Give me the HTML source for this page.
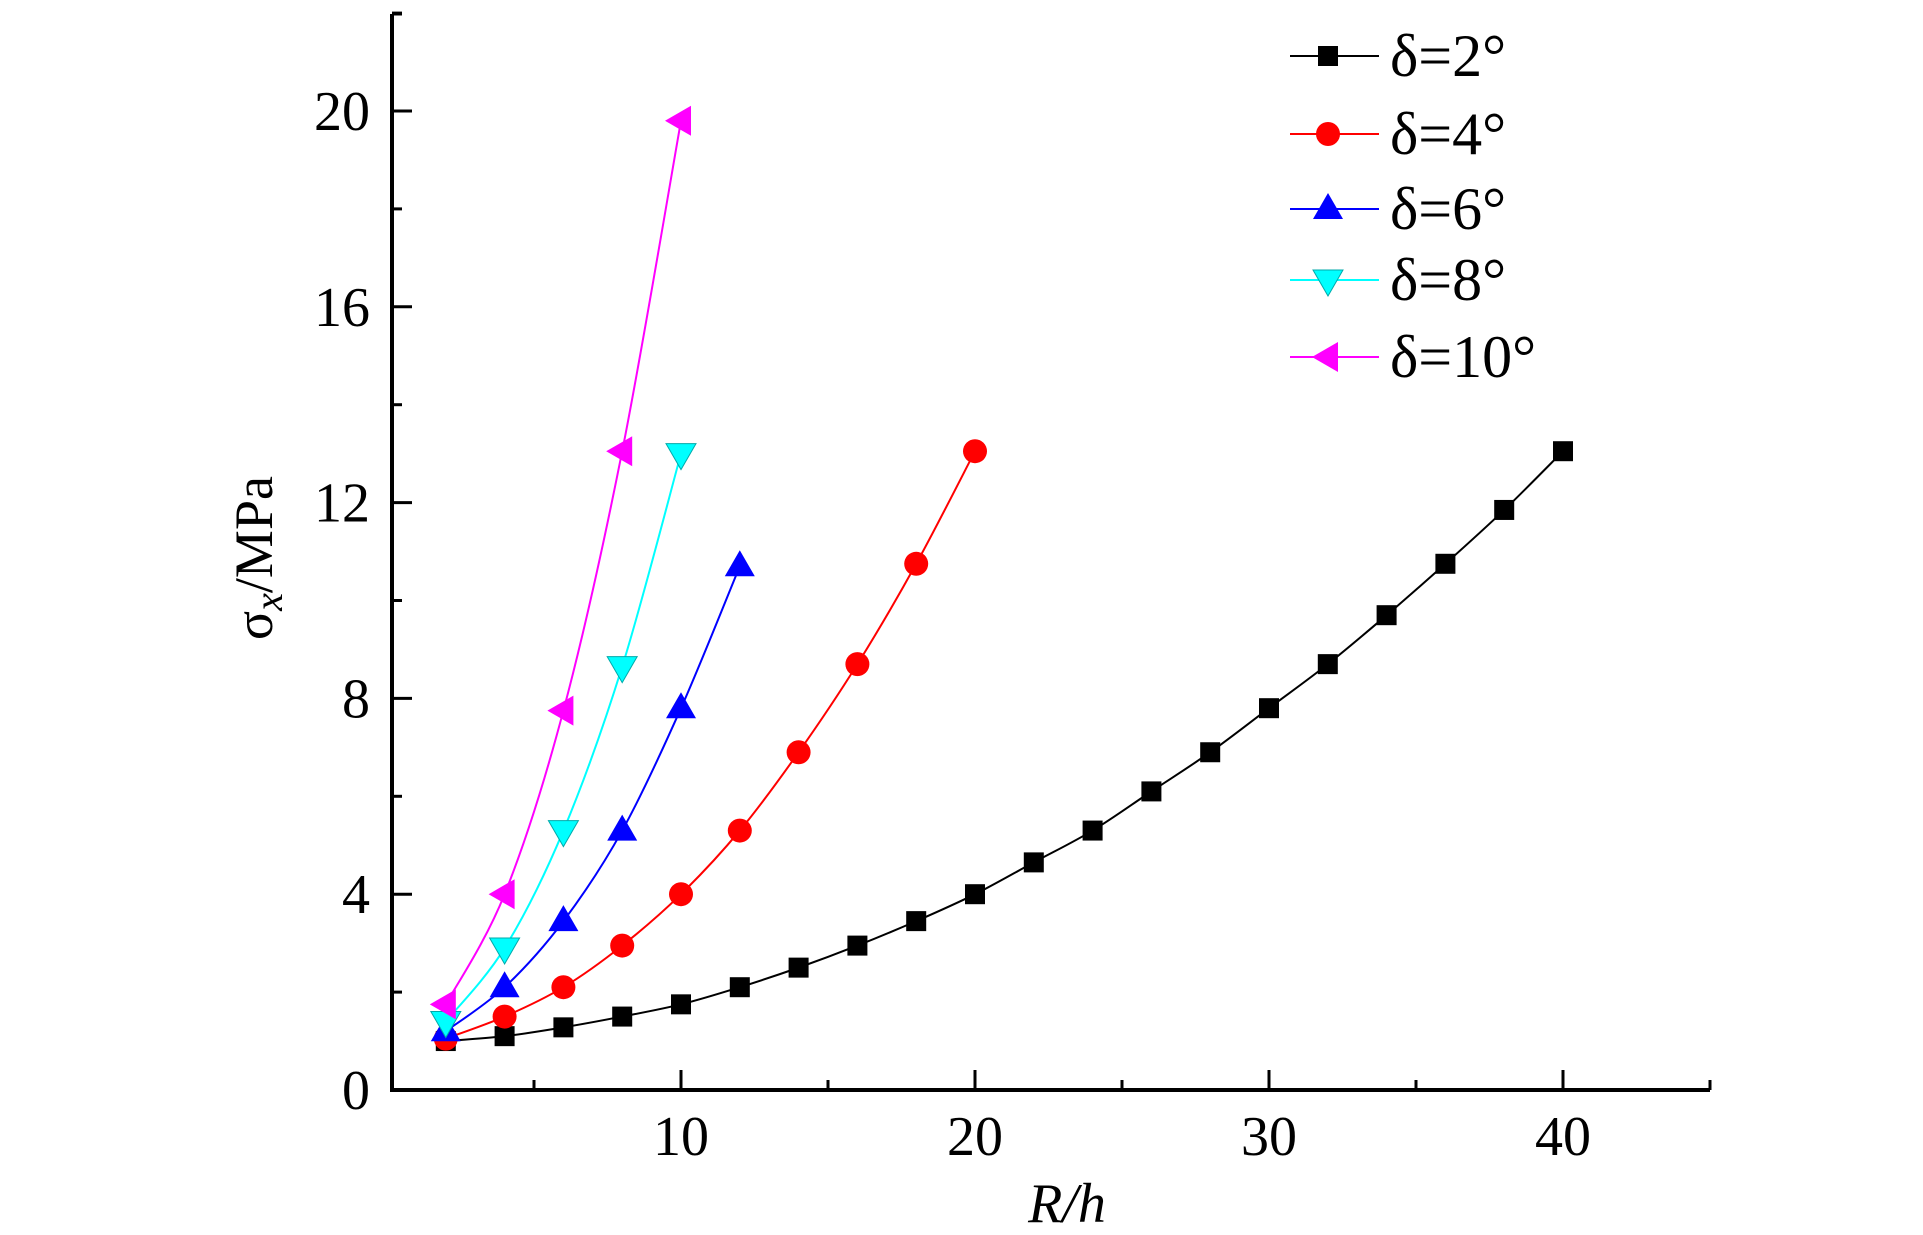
<!DOCTYPE html>
<html><head><meta charset="utf-8"><style>
html,body{margin:0;padding:0;background:#fff;}
svg{display:block;}
text{font-family:"Liberation Serif",serif;fill:#000;}
</style></head><body>
<svg id="chart" width="1923" height="1235" viewBox="0 0 1923 1235" xmlns="http://www.w3.org/2000/svg">
<g id="axes"></g>
<g id="series"></g>
<g id="legend"></g>
<text transform="translate(272,558) rotate(-90)" text-anchor="middle" font-size="54">σ<tspan font-style="italic" font-size="40" dy="10">x</tspan><tspan dy="-10">/MPa</tspan></text>
<text x="1067" y="1222" text-anchor="middle" font-size="56" font-style="italic">R/h</text>
</svg>
<script>
const xs2 = [2,4,6,8,10,12,14,16,18,20,22,24,26,28,30,32,34,36,38,40];
const ys2 = [1.0,1.1,1.28,1.5,1.75,2.1,2.5,2.95,3.45,4.0,4.65,5.3,6.1,6.9,7.8,8.7,9.7,10.75,11.85,13.05];
const xs4 = [2,4,6,8,10,12,14,16,18,20];
const ys4 = [1.05,1.5,2.1,2.95,4.0,5.3,6.9,8.7,10.75,13.05];
const xs6 = [2,4,6,8,10,12];
const ys6 = [1.2,2.1,3.45,5.3,7.8,10.7];
const xs8 = [2,4,6,8,10];
const ys8 = [1.4,2.9,5.3,8.65,13.0];
const xs10 = [2,4,6,8,10];
const ys10 = [1.75,4.0,7.75,13.05,19.8];
const seriesNames = ["δ=2°","δ=4°","δ=6°","δ=8°","δ=10°"];
const xTickLabels = ["10","20","30","40"];
const yTickLabels = ["0","4","8","12","16","20"];

const NS="http://www.w3.org/2000/svg";
const X = v => 387 + v*29.4;
const Y = v => 1090 - v*48.95;
function mk(tag, attrs, parent){const e=document.createElementNS(NS,tag);for(const k in attrs)e.setAttribute(k,attrs[k]);parent.appendChild(e);return e;}
const axes=document.getElementById('axes');
let l=mk('line',{x1:392,y1:Y(0),x2:X(45),y2:Y(0),stroke:'#000','stroke-width':4},axes);


l=mk('line',{x1:392,y1:Y(0)+2,x2:392,y2:14,stroke:'#000','stroke-width':4},axes);


for(let v=2;v<=22;v+=2){const major=v%4===0&&v<=20;
 const t=mk('line',{x1:392,y1:Y(v),x2:392+(major?20:10),y2:Y(v),stroke:'#000','stroke-width':3},axes);
 
 }
mk('line',{x1:392,y1:14,x2:402,y2:14,stroke:'#000','stroke-width':3},axes);
yTickLabels.forEach((s,i)=>{const t=mk('text',{x:370,y:Y(i*4)+19,'text-anchor':'end','font-size':56},axes);t.textContent=s;
 
 });
for(let v=5;v<=45;v+=5){const major=v%10===0;
 const t=mk('line',{x1:X(v),y1:Y(0),x2:X(v),y2:Y(0)-(major?20:10),stroke:'#000','stroke-width':3},axes);
 
 }
xTickLabels.forEach((s,i)=>{const t=mk('text',{x:X((i+1)*10),y:1155,'text-anchor':'middle','font-size':56},axes);t.textContent=s;
 
 });

const colors=['#000','#f00','#00f','#0ff','#f0f'];
const markers=['square','circle','up','down','left'];
const data=[[xs2,ys2],[xs4,ys4],[xs6,ys6],[xs8,ys8],[xs10,ys10]];
function marker(type,cx,cy,col,p){let e;
 if(type==='square')e=mk('rect',{x:cx-10,y:cy-10,width:20,height:20,fill:col},p);
 else if(type==='circle')e=mk('circle',{cx:cx,cy:cy,r:12,fill:col},p);
 else if(type==='up')e=mk('polygon',{points:`${cx},${cy-16} ${cx-15},${cy+10} ${cx+15},${cy+10}`,fill:col},p);
 else if(type==='down')e=mk('polygon',{points:`${cx},${cy+16} ${cx-15},${cy-10} ${cx+15},${cy-10}`,fill:col,stroke:'#0aa','stroke-width':1},p);
 else e=mk('polygon',{points:`${cx-16},${cy} ${cx+10},${cy-15} ${cx+10},${cy+15}`,fill:col},p);
 return e;}
function smooth(pts){let d=`M${pts[0][0]},${pts[0][1]}`;
 for(let i=0;i<pts.length-1;i++){const p0=pts[i-1]||pts[i],p1=pts[i],p2=pts[i+1],p3=pts[i+2]||p2;
  d+=` C${p1[0]+(p2[0]-p0[0])/6},${p1[1]+(p2[1]-p0[1])/6} ${p2[0]-(p3[0]-p1[0])/6},${p2[1]-(p3[1]-p1[1])/6} ${p2[0]},${p2[1]}`;}
 return d;}
const sg=document.getElementById('series');
data.forEach(([xs,ys],si)=>{const g=mk('g',{},sg);
 
 
 const pts=xs.map((x,i)=>[X(x),Y(ys[i])]);
 mk('path',{d:smooth(pts),fill:'none',stroke:colors[si],'stroke-width':2},g);
 pts.forEach(p=>{const m=marker(markers[si],p[0],p[1],colors[si],g);
  
  });});
const lg=document.getElementById('legend');
const rows=[56,134,209,280,357];
seriesNames.forEach((s,i)=>{const g=mk('g',{},lg);
 
 
 mk('line',{x1:1290,y1:rows[i],x2:1379,y2:rows[i],stroke:colors[i],'stroke-width':2},g);
 marker(markers[i],1328,rows[i],colors[i],g);
 const t=mk('text',{x:1390,y:rows[i]+20,'font-size':60},g);t.textContent=s;});
</script>
</body></html>
